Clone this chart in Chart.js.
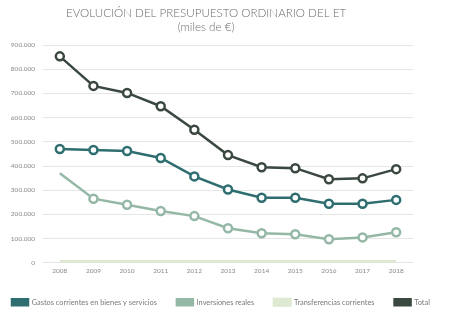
<!DOCTYPE html>
<html>
<head>
<meta charset="utf-8">
<script src="https://cdn.jsdelivr.net/npm/chart.js@4"></script>
<style>
  html, body { margin: 0; padding: 0; background: #fff; }
  #wrap { width: 468px; height: 327px; }
</style>
</head>
<body>
<div id="wrap"><canvas id="presupuesto"></canvas></div>
<script>
const years = ['2008', '2009', '2010', '2011', '2012', '2013', '2014', '2015', '2016', '2017', '2018'];
const gastosCorrientes = [470000, 466000, 462000, 433000, 357000, 303000, 269000, 269000, 244000, 244000, 260000];
const inversionesReales = [370000, 265000, 240000, 214000, 193000, 143000, 122000, 118000, 97000, 105000, 126000];
const transferencias = [5000, 5000, 5000, 5000, 5000, 5000, 5000, 5000, 5000, 5000, 5000];
const total = [853000, 731000, 702000, 647000, 550000, 445000, 395000, 391000, 345000, 349000, 387000];
const titleLines = ['EVOLUCIÓN DEL PRESUPUESTO ORDINARIO DEL ET', '(miles de €)'];

const fontFamily = 'Lato, "Open Sans", sans-serif';

// title is centred a bit left of the plot, as in the original layout
const titlePlugin = {
    id: 'titleText',
    afterLayout(chart) {
        // pull the legend row to the left edge
        chart.legend.left -= 8;
        chart.legend.right -= 8;
    },
    afterDraw(chart) {
        const ctx = chart.ctx;
        ctx.save();
        ctx.fillStyle = '#6a6a6a';
        ctx.font = '300 11.6px ' + fontFamily;
        ctx.textAlign = 'center';
        ctx.textBaseline = 'middle';
        ctx.fillText(titleLines[0], 206, 13);
        ctx.fillText(titleLines[1], 206, 27);
        ctx.restore();
    }
};

function makeSet(label, data, color, width, markers) {
    return {
        label: label,
        data: data,
        borderColor: color,
        backgroundColor: color,
        borderWidth: width,
        pointBackgroundColor: '#fff',
        pointBorderColor: color,
        pointBorderWidth: 2.5,
        pointRadius: markers,
        tension: 0
    };
}

new Chart(document.getElementById('presupuesto'), {
    type: 'line',
    data: {
        labels: years,
        datasets: [
            makeSet('Gastos corrientes en bienes y servicios', gastosCorrientes, '#2f6e70', 2.5, 4),
            makeSet('Inversiones reales', inversionesReales, '#95b8a6', 2.5, [0, 4, 4, 4, 4, 4, 4, 4, 4, 4, 4]),
            makeSet('Transferencias corrientes', transferencias, '#dde9d0', 3, 0),
            makeSet('Total', total, '#3a4840', 2.5, 4)
        ]
    },
    plugins: [titlePlugin],
    options: {
        responsive: true,
        maintainAspectRatio: false,
        animation: false,
        layout: { padding: { top: 45, right: 0, left: 0, bottom: 11 } },
        plugins: {
            title: { display: false },
            tooltip: { enabled: false },
            legend: {
                position: 'bottom',
                align: 'start',
                labels: {
                    boxWidth: 16,
                    boxHeight: 6,
                    padding: 20,
                    color: '#7a7a7a',
                    font: { family: fontFamily, size: 7.4 }
                }
            }
        },
        scales: {
            x: {
                offset: true,
                grid: { display: false, drawTicks: false },
                border: { display: false },
                ticks: { color: '#8a8a8a', font: { family: fontFamily, size: 6.5 }, padding: 4, maxRotation: 0 }
            },
            y: {
                min: 0,
                max: 900000,
                afterFit(scale) { scale.width = 43; },
                grid: { color: '#e6e6e6', lineWidth: 1, drawTicks: false },
                border: { display: false },
                ticks: {
                    stepSize: 100000,
                    color: '#8a8a8a',
                    padding: 8,
                    font: { family: fontFamily, size: 6.5 },
                    callback: v => v.toString().replace(/\B(?=(\d{3})+(?!\d))/g, '.')
                }
            },
            spacer: {
                position: 'right',
                afterFit(scale) { scale.width = 55; },
                grid: { display: false },
                border: { display: false },
                ticks: { display: false }
            }
        }
    }
});
</script>
</body>
</html>
